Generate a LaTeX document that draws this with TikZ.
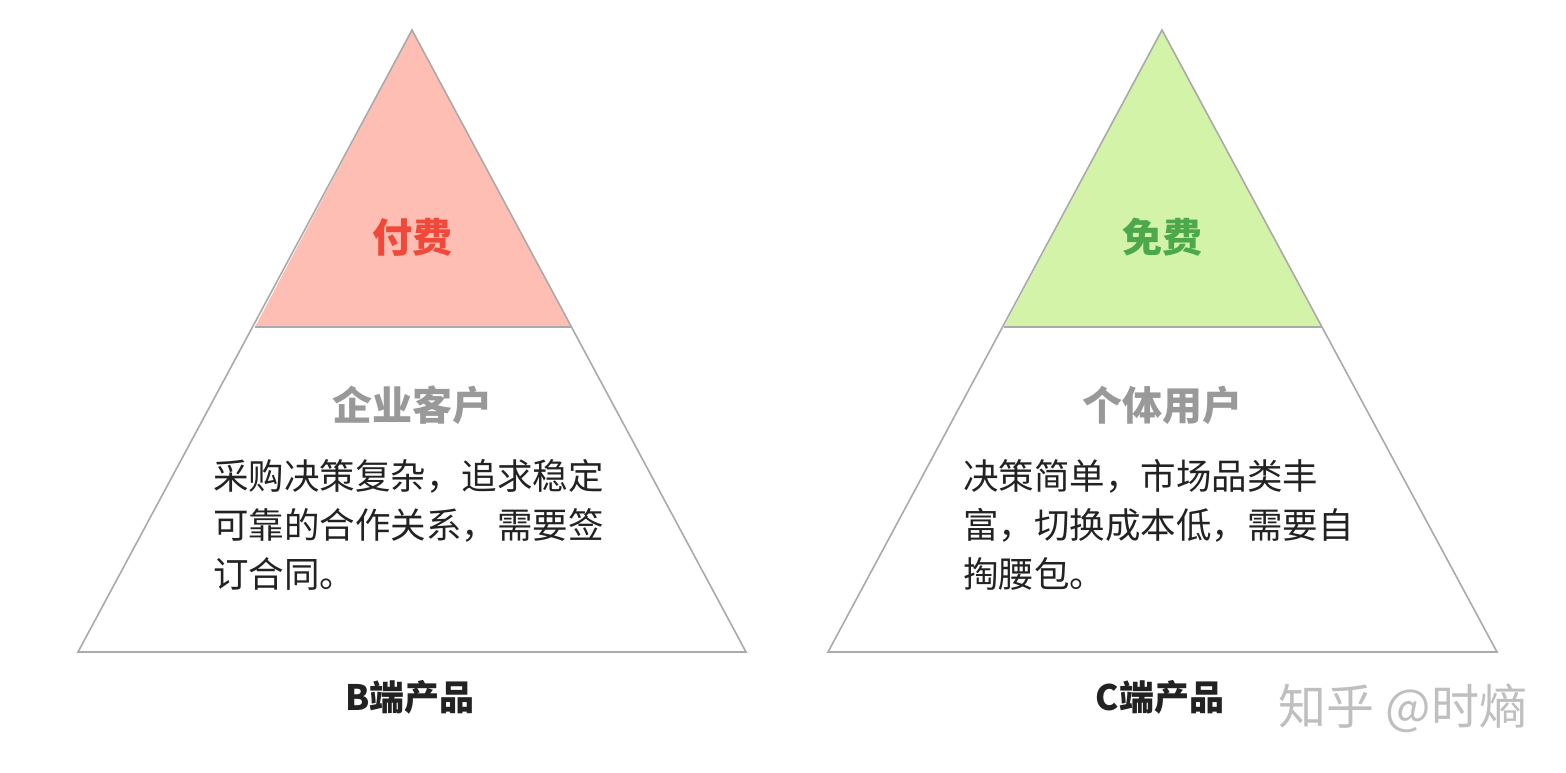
\documentclass[tikz,border=0pt]{standalone}
\usepackage{fontspec}
\newfontfamily\cjk{Noto Sans CJK SC}
\definecolor{redfill}{HTML}{FFBEB3}
\definecolor{redtxt}{HTML}{F0483A}
\definecolor{grnfill}{HTML}{D2F3A8}
\definecolor{grntxt}{HTML}{4DA84D}
\definecolor{edge}{HTML}{AAAAAA}
\definecolor{gtxt}{HTML}{999999}
\definecolor{btxt}{HTML}{222222}
\begin{document}
\begin{tikzpicture}[x=1pt,y=-1pt,
  tri/.style={draw=edge,line width=1.6pt,line join=miter},
  toptxt/.style={font=\cjk\bfseries\fontsize{40}{42}\selectfont},
  midtxt/.style={font=\cjk\bfseries\fontsize{40}{42}\selectfont,text=gtxt},
  bodytxt/.style={font=\cjk\fontsize{35.5}{49}\selectfont,text=btxt,align=left,anchor=west,inner sep=0pt},
  captxt/.style={font=\cjk\bfseries\fontsize{35}{38}\selectfont,text=btxt}]
\useasboundingbox[fill=white] (0,0) rectangle (1566,772);
% left
\fill[redfill] (412,30) -- (255,327) -- (571,327) -- cycle;
\draw[tri] (412,30) -- (78,652) -- (746,652) -- cycle;
\draw[edge,line width=1.6pt] (255,327) -- (571,327);
\node[toptxt,text=redtxt] (lt) at (412,237) {付费};
\node[midtxt] (lm) at (412,405) {企业客户};
\node[bodytxt] (lb) at (213,525) {采购决策复杂，追求稳定\\可靠的合作关系，需要签\\订合同。};
\node[captxt] (lc) at (410,697) {B端产品};
% right
\fill[grnfill] (1162,30) -- (1004,327) -- (1322,327) -- cycle;
\draw[tri] (1162,30) -- (828,652) -- (1497,652) -- cycle;
\draw[edge,line width=1.6pt] (1004,327) -- (1322,327);
\node[toptxt,text=grntxt] (rt) at (1162,237) {免费};
\node[midtxt] (rm) at (1162,405) {个体用户};
\node[bodytxt] (rb) at (963,525) {决策简单，市场品类丰\\富，切换成本低，需要自\\掏腰包。};
\node[captxt] (rc) at (1160,697) {C端产品};
\node[font=\cjk\fontsize{48}{50}\selectfont,text=black!25] (wm) at (1403,708) {知乎 @时熵};
\end{tikzpicture}
\end{document}
